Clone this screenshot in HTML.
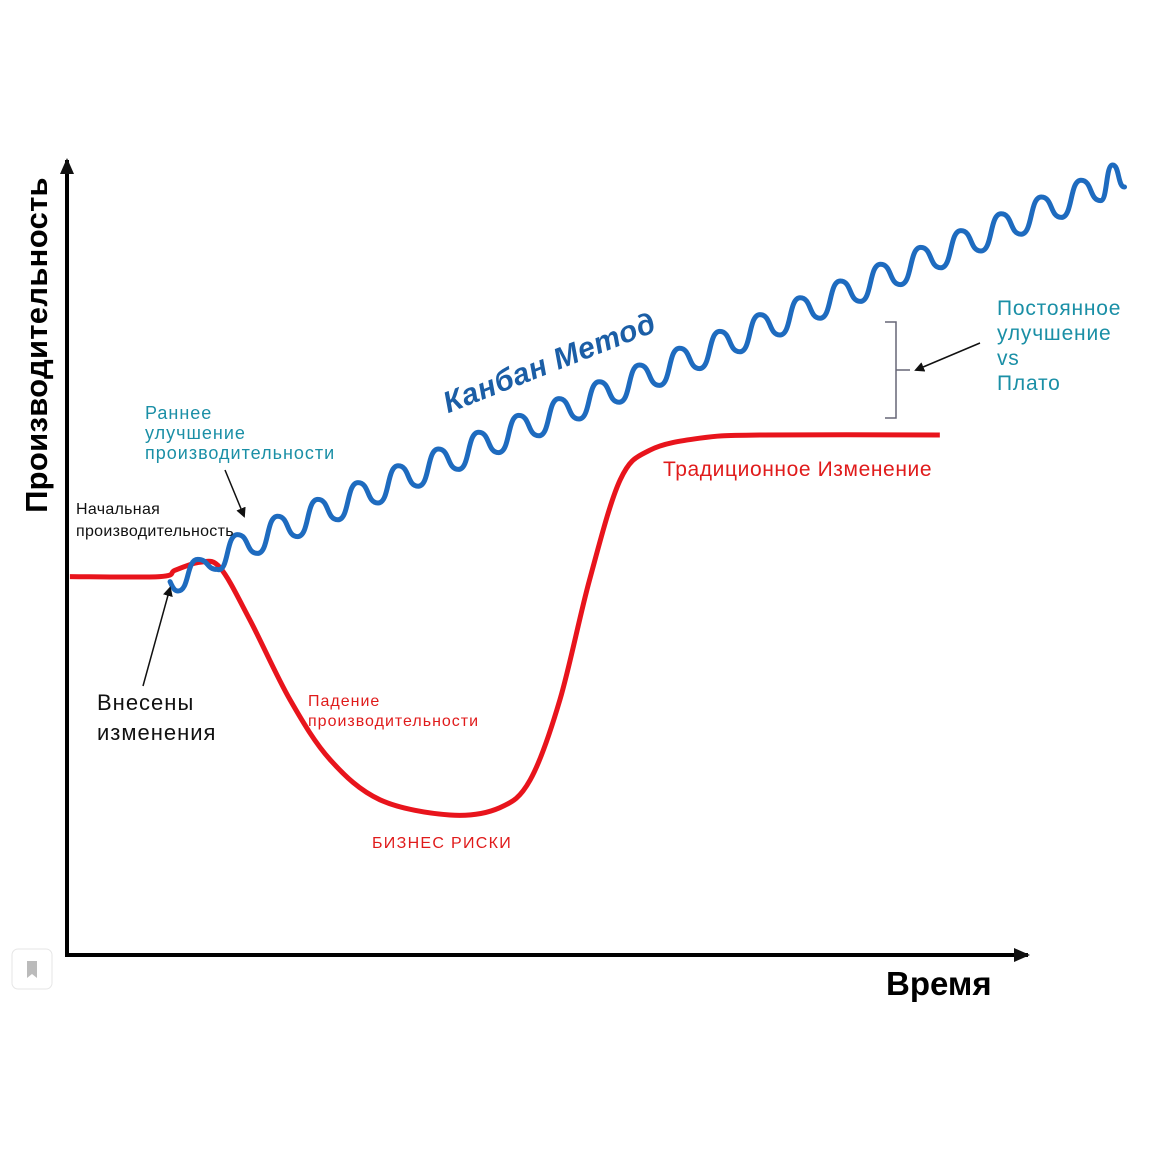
<!DOCTYPE html>
<html><head><meta charset="utf-8"><style>
html,body{margin:0;padding:0;background:#fff}
svg{display:block}
text{font-family:"Liberation Sans",sans-serif}
</style></head><body>
<svg id="chart" width="1150" height="1150" viewBox="0 0 1150 1150" xmlns="http://www.w3.org/2000/svg">
<defs>
<marker id="ah" markerWidth="10" markerHeight="10" refX="8" refY="5" orient="auto" markerUnits="userSpaceOnUse"><path d="M0,0 L10,5 L0,10 z" fill="#111"/></marker>
<marker id="ah2" markerWidth="16" markerHeight="14" refX="14" refY="7" orient="auto" markerUnits="userSpaceOnUse"><path d="M0,0 L16,7 L0,14 z" fill="#111"/></marker>
</defs>
<g id="axes">
<line x1="67" y1="957" x2="67" y2="160" stroke="#000" stroke-width="4" marker-end="url(#ah2)"/>
<line x1="65" y1="955" x2="1028" y2="955" stroke="#000" stroke-width="4" marker-end="url(#ah2)"/>
<text transform="translate(47,345) rotate(-90)" text-anchor="middle" font-size="31" font-weight="bold" fill="#000" letter-spacing="0.3">Производительность</text>
<text x="886" y="995" font-size="33" font-weight="bold" fill="#000">Время</text>
</g>
<g id="series"></g>
<g>
<text transform="translate(553,372) rotate(-21.5)" text-anchor="middle" font-size="30" font-weight="bold" font-style="italic" fill="#1b5ea6" letter-spacing="0.5">Канбан Метод</text>
<text x="663" y="476" font-size="21" fill="#e01b1b" letter-spacing="0.6">Традиционное Изменение</text>
<text font-size="18" fill="#1a8fa6" letter-spacing="1"><tspan x="145" y="419">Раннее</tspan><tspan x="145" y="439">улучшение</tspan><tspan x="145" y="459">производительности</tspan></text>
<text font-size="16" fill="#111" letter-spacing="0.3"><tspan x="76" y="514">Начальная</tspan><tspan x="76" y="536">производительность</tspan></text>
<text font-size="22" fill="#111" letter-spacing="1"><tspan x="97" y="710">Внесены</tspan><tspan x="97" y="740">изменения</tspan></text>
<text font-size="16" fill="#e01b1b" letter-spacing="1"><tspan x="308" y="706">Падение</tspan><tspan x="308" y="726">производительности</tspan></text>
<text x="372" y="848" font-size="16" fill="#e01b1b" letter-spacing="1.3">БИЗНЕС РИСКИ</text>
<text font-size="21" fill="#1a8fa6" letter-spacing="0.8"><tspan x="997" y="315">Постоянное</tspan><tspan x="997" y="340">улучшение</tspan><tspan x="997" y="365">vs</tspan><tspan x="997" y="390">Плато</tspan></text>
<path d="M885,322 H896 V370 H910 M896,370 V418 H885" fill="none" stroke="#667" stroke-width="1.5"/>
<line x1="980" y1="343" x2="916" y2="370" stroke="#111" stroke-width="1.5" marker-end="url(#ah)"/>
<line x1="225" y1="470" x2="244" y2="516" stroke="#111" stroke-width="1.5" marker-end="url(#ah)"/>
<line x1="143" y1="686" x2="170" y2="588" stroke="#111" stroke-width="1.5" marker-end="url(#ah)"/>
</g>
<g>
<rect x="12" y="949" width="40" height="40" rx="6" fill="#fff" stroke="#e6e6e6"/>
<path d="M27,961 H37 V978 L32,974 L27,978 Z" fill="#bbb"/>
</g>
</svg>
<script>
// Traditional change: time (0-100), productivity (0-100)
const tradTime = [0.2, 9.6, 11.2, 13.8, 15.9, 19.0, 23.2, 27.4, 32.6, 39.9, 45.1, 48.3, 51.4, 54.5, 57.7, 60.8, 66.0, 72.3, 91.1];
const tradProd = [47.3, 47.3, 48.1, 49.1, 48.4, 41.9, 31.9, 24.4, 19.4, 17.5, 18.4, 21.9, 31.9, 46.9, 59.4, 63.1, 64.6, 65.0, 65.0];
// Kanban: midline of each wave cycle (time, productivity) and amplitude
const kanbanTime = [11.5,15.6,19.8,24.0,28.2,32.4,36.6,40.8,45.0,49.2,53.4,57.6,61.8,66.0,70.2,74.4,78.6,82.8,87.0,91.2,95.4,99.6,103.8,107.9,110.4];
const kanbanProd = [46.8,49.5,52.0,54.1,56.2,58.3,60.4,62.5,64.6,66.7,68.8,70.9,73.0,75.1,77.2,79.3,81.4,83.5,85.6,87.7,89.8,91.9,94.0,96.1,97.8];
const kanbanAmp  = [1.3,1.8,1.8,1.8,1.8,1.8,1.8,1.8,1.8,1.8,1.8,1.8,1.8,1.8,1.8,1.8,1.8,1.8,1.8,1.8,1.8,1.8,1.8,1.8,1.6];

const xS = t => 68 + t * 9.57;
const yS = p => 955 - p * 8;
const NS = "http://www.w3.org/2000/svg";
const g = document.getElementById('series');

let pts = tradTime.map((t,i)=>[xS(t), yS(tradProd[i])]);
let d = `M${pts[0][0]},${pts[0][1]}`;
for (let i=0;i<pts.length-1;i++){
  const p0=pts[Math.max(0,i-1)],p1=pts[i],p2=pts[i+1],p3=pts[Math.min(pts.length-1,i+2)];
  const c1=[p1[0]+(p2[0]-p0[0])/6,p1[1]+(p2[1]-p0[1])/6];
  const c2=[p2[0]-(p3[0]-p1[0])/6,p2[1]-(p3[1]-p1[1])/6];
  d+=` C${c1[0]},${c1[1]} ${c2[0]},${c2[1]} ${p2[0]},${p2[1]}`;
}
const red = document.createElementNS(NS,'path');
red.setAttribute('d',d);
red.setAttribute('fill','none');
red.setAttribute('stroke','#e8141c');
red.setAttribute('stroke-width','5');


g.appendChild(red);

let bd = '';
const k = 0.29;
for (let i=0;i<kanbanTime.length-1;i++){
  const x0=xS(kanbanTime[i]), x1=xS(kanbanTime[i+1]);
  const y0=yS(kanbanProd[i]), y1=yS(kanbanProd[i+1]);
  const a=kanbanAmp[i]*8, w=x1-x0;
  const tx=x0, ty=y0+a;
  const cx=x0+w/2, cy=(y0+y1)/2-a;
  const nx=x1, ny=y1+a;
  if(i===0) bd+=`M${tx-8},${ty-a*0.9} C${tx-4},${ty} ${tx-2},${ty} ${tx},${ty}`;
  bd+=` C${tx+w*k},${ty} ${cx-w*k},${cy} ${cx},${cy}`;
  bd+=` C${cx+w*k},${cy} ${nx-w*k},${ny} ${nx},${ny}`;
}
const blue = document.createElementNS(NS,'path');
blue.setAttribute('d',bd);
blue.setAttribute('fill','none');
blue.setAttribute('stroke','#1e6bbf');
blue.setAttribute('stroke-width','5');
blue.setAttribute('stroke-linecap','round');


g.appendChild(blue);
</script>
</body></html>
